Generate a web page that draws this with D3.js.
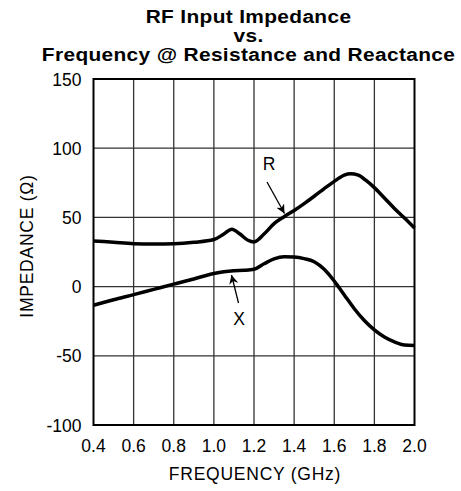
<!DOCTYPE html>
<html>
<head>
    <title>RF Input Impedance</title>
    <script src="https://d3js.org/d3.v7.min.js"></script>
    <style>
      body{margin:0;background:white;}
      text{font-family:Arial,"Liberation Sans",sans-serif;fill:black;}
      .title{font-size:18.5px;font-weight:bold;text-anchor:middle;letter-spacing:0.3px;}
      .tick{font-size:17.5px;}
      .axtitle{font-size:17.5px;letter-spacing:0.75px;text-anchor:middle;}
      .grid{stroke:#333;stroke-width:1.3;}
      .curve{fill:none;stroke:black;stroke-width:3.5;stroke-linejoin:round;}
      .arrow{stroke:black;stroke-width:1.3;fill:none;}
    </style>
</head>
<body>
<script>
  // data (GHz -> ohms)
  var freqR=[0.4,0.5,0.6,0.7,0.8,0.9,1.0,1.05,1.09,1.13,1.17,1.2,1.25,1.3,1.35,1.4,1.45,1.5,1.55,1.6,1.65,1.68,1.72,1.76,1.8,1.85,1.9,1.95,2.0]
  var resistance=[33,32,31,30.8,31,32,34,38,41.5,38,33.5,32.3,38,45.5,50.5,55,60,65.3,70.8,76,80.5,81.5,80.5,76.5,71.5,64,56.5,49.5,42.3]
  var freqX=[0.4,0.5,0.6,0.7,0.8,0.9,1.0,1.05,1.1,1.15,1.2,1.25,1.3,1.35,1.4,1.45,1.5,1.55,1.6,1.65,1.7,1.75,1.8,1.85,1.9,1.95,2.0]
  var reactance=[-13.5,-9.5,-5.8,-2,1.8,5.5,9.5,10.8,11.5,11.8,12.5,16.5,20,21.5,21.3,20.2,18,12.5,4,-6,-16,-24.5,-31.3,-36.5,-40,-42.2,-42.5]
  var xTicks=[0.4,0.6,0.8,1.0,1.2,1.4,1.6,1.8,2.0]
  var yTicks=[150,100,50,0,-50,-100]
  var titleLines=["RF Input Impedance","vs.","Frequency @ Resistance and Reactance"]

  var svg=d3.select("body").append("svg").attr("width",461).attr("height",491)
  var plotL=93.5,plotR=414.5,plotT=79,plotB=425

  var x=d3.scaleLinear().domain([0.4,2.0]).range([plotL,plotR])
  var y=d3.scaleLinear().domain([-100,150]).range([plotB,plotT])

  // title, glyphs a bit wider than Arial bold so stretch it
  svg.append("g").attr("transform","translate(248.5,0) scale(1.13,1)")
    .selectAll(".title").data(titleLines).enter().append("text").attr("class","title")
    .attr("x",0).attr("y",function(d,i){return 22.7+i*19.2}).text(function(d){return d})

  // grid
  svg.append("g").selectAll("line").data(xTicks.slice(1,-1)).enter().append("line").attr("class","grid")
    .attr("x1",function(d){return x(d)}).attr("x2",function(d){return x(d)}).attr("y1",plotT).attr("y2",plotB)
  svg.append("g").selectAll("line").data(yTicks.slice(1,-1)).enter().append("line").attr("class","grid")
    .attr("y1",function(d){return y(d)}).attr("y2",function(d){return y(d)}).attr("x1",plotL).attr("x2",plotR)
  svg.append("rect").attr("x",plotL).attr("y",plotT).attr("width",plotR-plotL).attr("height",plotB-plotT)
    .attr("fill","none").attr("stroke","black").attr("stroke-width",2)

  // tick labels
  svg.append("g").selectAll("text").data(yTicks).enter().append("text").attr("class","tick")
    .attr("x",81.5).attr("y",function(d){return y(d)+6.5}).attr("text-anchor","end").text(function(d){return d})
  svg.append("g").selectAll("text").data(xTicks).enter().append("text").attr("class","tick")
    .attr("x",function(d){return x(d)}).attr("y",451.5).attr("text-anchor","middle").text(function(d){return d.toFixed(1)})

  // axis titles
  svg.append("text").attr("class","axtitle").attr("x",255).attr("y",480).text("FREQUENCY (GHz)")
  svg.append("text").attr("class","axtitle").attr("transform","translate(33,246) rotate(-90)").text("IMPEDANCE (\u03A9)")

  // curves
  var line=d3.line().curve(d3.curveMonotoneX)
  svg.append("path").attr("class","curve")
    .attr("d",line(freqR.map(function(f,i){return [x(f),y(resistance[i])]})))
  svg.append("path").attr("class","curve")
    .attr("d",line(freqX.map(function(f,i){return [x(f),y(reactance[i])]})))

  // annotations
  svg.append("defs").append("marker").attr("id","head").attr("viewBox","0 0 10 10").attr("refX",10).attr("refY",5)
    .attr("markerWidth",9).attr("markerHeight",9).attr("markerUnits","userSpaceOnUse").attr("orient","auto")
    .append("path").attr("d","M0,0L10,5L0,10L3,5Z").attr("fill","black")
  svg.append("line").attr("class","arrow").attr("x1",267).attr("y1",182).attr("x2",284.5).attr("y2",213.5).attr("marker-end","url(#head)")
  svg.append("text").attr("class","tick").attr("x",269).attr("y",169.5).attr("text-anchor","middle").text("R")
  svg.append("line").attr("class","arrow").attr("x1",238.5).attr("y1",303).attr("x2",231.5).attr("y2",275).attr("marker-end","url(#head)")
  svg.append("text").attr("class","tick").attr("x",239).attr("y",324.5).attr("text-anchor","middle").text("X")
</script>
</body>
</html>
